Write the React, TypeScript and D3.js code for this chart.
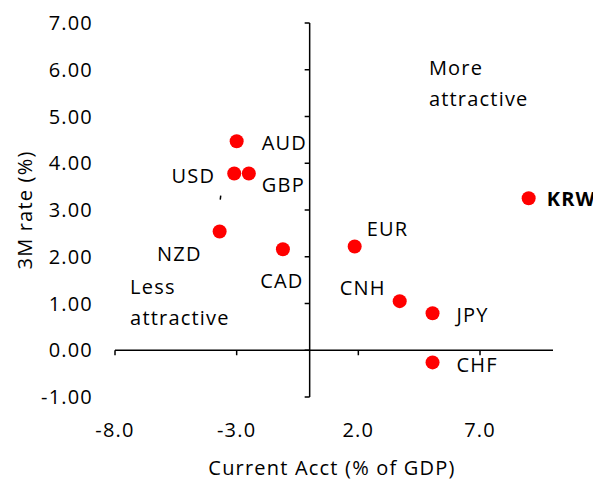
import React from "react";
import * as d3 from "d3";

const currencies = ["AUD", "USD", "GBP", "NZD", "CAD", "EUR", "CNH", "JPY", "CHF", "KRW"];
const currentAcct = [-3.0, -3.1, -2.5, -3.7, -1.1, 1.85, 3.7, 5.05, 5.05, 9.0];
const rate3M = [4.47, 3.78, 3.78, 2.54, 2.16, 2.22, 1.05, 0.79, -0.26, 3.25];
const boldLabels = ["KRW"];
// label placement: [dx, dy, anchor]
const labelPlacement: [number, number, string][] = [
  [25, 9, "start"],
  [-19, 9, "end"],
  [13, 18, "start"],
  [-18, 29, "end"],
  [-1, 39, "middle"],
  [12, -10, "start"],
  [-14, -6, "end"],
  [24, 9, "start"],
  [24, 10, "start"],
  [18, 8, "start"],
];
const xTicks = [-8, -3, 2, 7];
const yTicks = [-1, 0, 1, 2, 3, 4, 5, 6, 7];
const annotations = [
  { lines: ["More", "attractive"], x: 4.9, y: 5.89 },
  { lines: ["Less", "attractive"], x: -7.38, y: 1.21 },
];
const xTitle = "Current Acct (% of GDP)";
const yTitle = "3M rate (%)";

const W = 593;
const H = 479;
const FONT = "'Open Sans', Lato, sans-serif";

const fmt = (spec: string) => (v: number) => d3.format(spec)(v).replace("\u2212", "-");

export default function App() {
  const x = d3.scaleLinear().domain([-8, 10]).range([115, 553]);
  const y = d3.scaleLinear().domain([-1, 7]).range([397, 23]);
  const fs = 20;
  const ls = 1.2;
  return (
    <svg
      width={W}
      height={H}
      style={{ position: "absolute", left: 0, top: 0, background: "#fff" }}
      fontFamily={FONT}
    >
      <rect width={W} height={H} fill="#fff" />
      <line x1={x(0)} x2={x(0)} y1={y(-1)} y2={y(7)} stroke="#000" strokeWidth={1.5} />
      <line x1={x(-8)} x2={x(10)} y1={y(0)} y2={y(0)} stroke="#000" strokeWidth={1.5} />
      {yTicks.map((t) => (
        <g key={"y" + t}>
          <line x1={x(0) - 5} x2={x(0)} y1={y(t)} y2={y(t)} stroke="#000" strokeWidth={1.5} />
          <text
            x={93}
            y={y(t)}
            dy="0.35em"
            textAnchor="end"
            fontSize={fs}
            letterSpacing={ls}
            fill="#000"
          >
            {fmt(".2f")(t)}
          </text>
        </g>
      ))}
      {xTicks.map((t) => (
        <g key={"x" + t}>
          <line x1={x(t)} x2={x(t)} y1={y(0)} y2={y(0) + 5} stroke="#000" strokeWidth={1.5} />
          <text
            x={x(t)}
            y={430}
            dy="0.35em"
            textAnchor="middle"
            fontSize={fs}
            letterSpacing={ls}
            fill="#000"
          >
            {fmt(".1f")(t)}
          </text>
        </g>
      ))}
      <text
        x={332}
        y={468}
        dy="0.35em"
        textAnchor="middle"
        fontSize={fs}
        letterSpacing={ls}
        fill="#000"
      >
        {xTitle}
      </text>
      <text
        transform={`translate(25,${(y(-1) + y(7)) / 2}) rotate(-90)`}
        dy="0.35em"
        textAnchor="middle"
        fontSize={fs}
        letterSpacing={ls}
        fill="#000"
      >
        {yTitle}
      </text>
      <line
        x1={x(currentAcct[1]) - 14}
        y1={y(rate3M[1]) + 26}
        x2={x(currentAcct[1]) - 13.5}
        y2={y(rate3M[1]) + 22}
        stroke="#000"
        strokeWidth={1.5}
      />
      {currencies.map((c, i) => (
        <circle key={c} cx={x(currentAcct[i])} cy={y(rate3M[i])} r={7} fill="#ff0000" />
      ))}
      {currencies.map((c, i) => {
        const [dx, dy, anchor] = labelPlacement[i];
        return (
          <text
            key={"l" + c}
            x={x(currentAcct[i]) + dx}
            y={y(rate3M[i]) + dy}
            textAnchor={anchor as any}
            fontSize={fs}
            letterSpacing={ls}
            fontWeight={boldLabels.includes(c) ? 700 : 400}
            fill="#000"
          >
            {c}
          </text>
        );
      })}
      {annotations.map((a, i) => (
        <text key={"a" + i} x={x(a.x)} y={y(a.y)} fontSize={fs} letterSpacing={ls} fill="#000">
          {a.lines.map((l, j) => (
            <tspan key={j} x={x(a.x)} dy={j === 0 ? 0 : 31}>
              {l}
            </tspan>
          ))}
        </text>
      ))}
    </svg>
  );
}
